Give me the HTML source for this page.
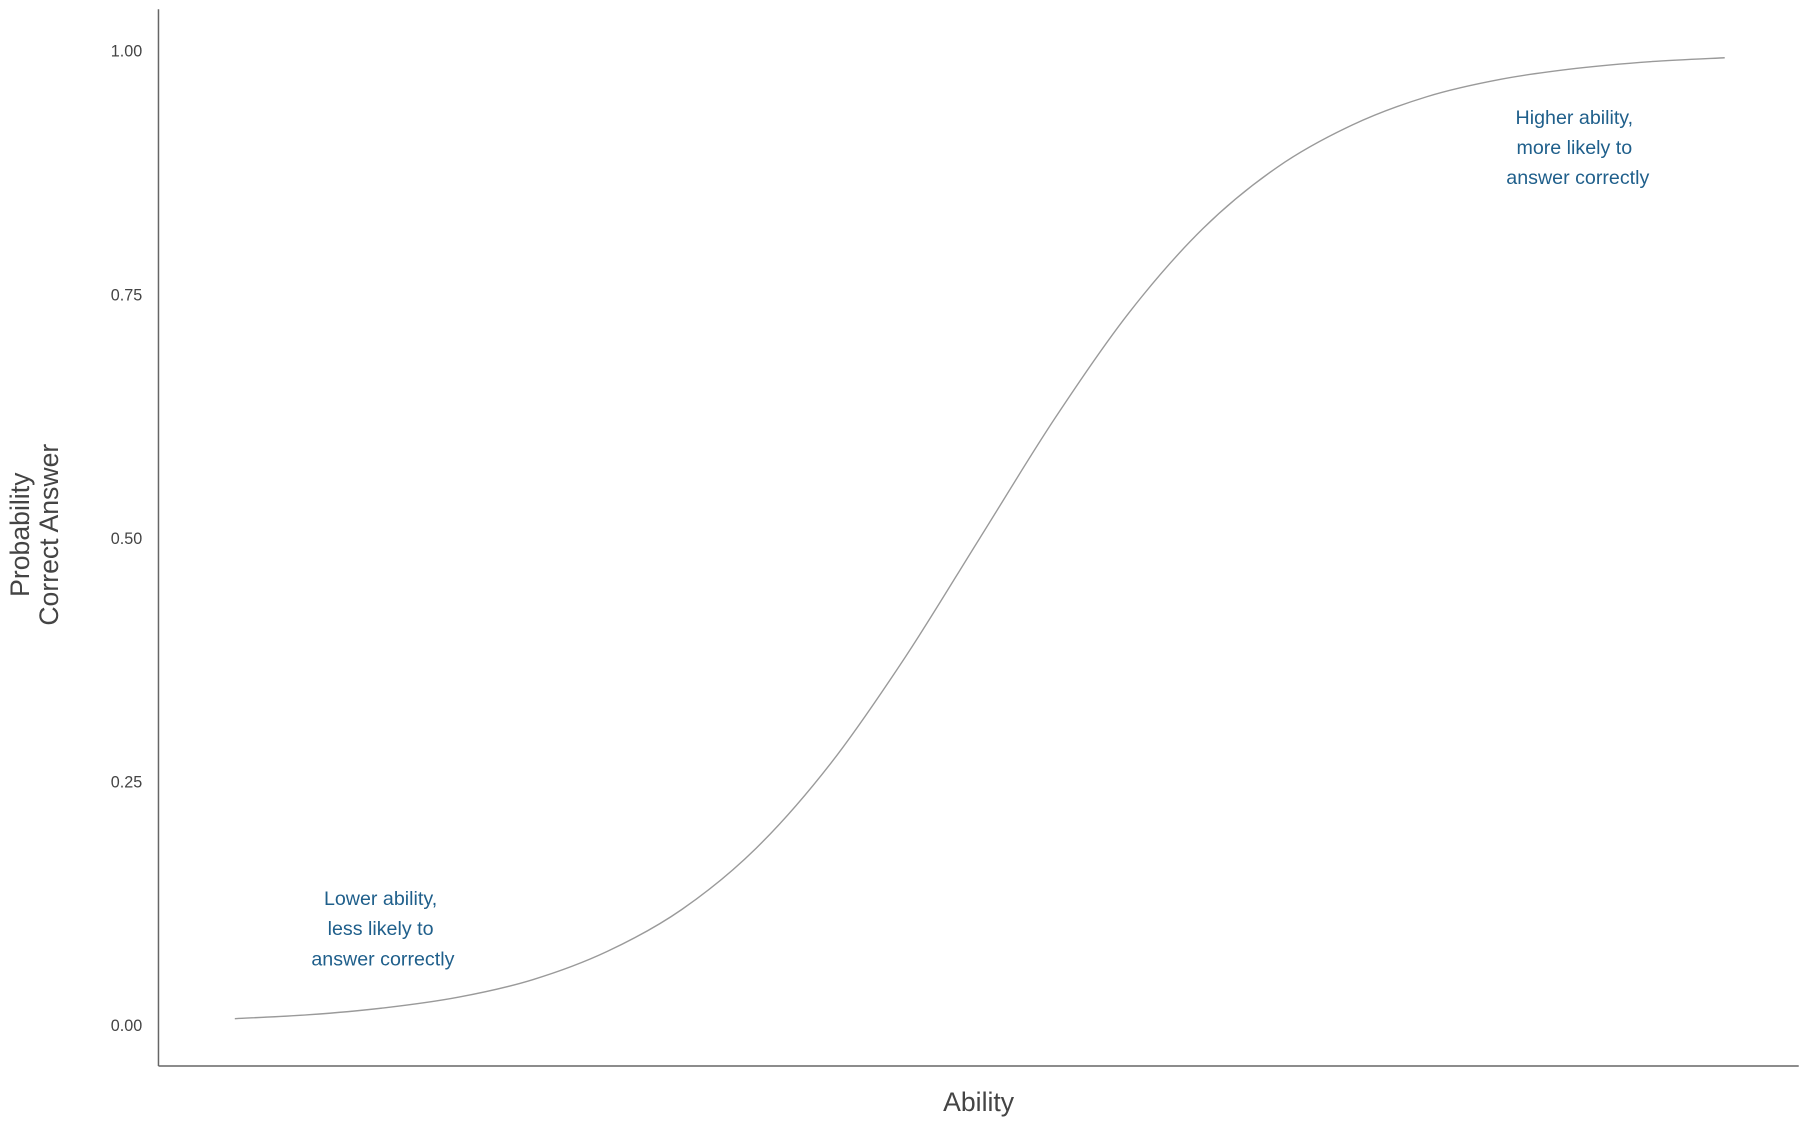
<!DOCTYPE html>
<html><head><meta charset="utf-8"><style>
html,body{margin:0;padding:0;background:#fff;}
svg{display:block;font-family:"Liberation Sans",sans-serif;}
</style></head><body>
<svg id="chart" width="1808" height="1125" viewBox="0 0 1563 972" preserveAspectRatio="none" xmlns="http://www.w3.org/2000/svg">
<line x1="137" y1="8" x2="137" y2="921" stroke="#666" stroke-width="1.3"/>
<line x1="137" y1="921" x2="1555" y2="921" stroke="#666" stroke-width="1.3"/>
<g id="yticks"></g>
<path id="curve" fill="none" stroke="#9a9a9a" stroke-width="1.2"/>
<text x="846" y="960" text-anchor="middle" font-size="23" fill="#444">Ability</text>
<text transform="translate(25,462) rotate(-90)" text-anchor="middle" font-size="23" fill="#444">Probability</text>
<text transform="translate(50,462) rotate(-90)" text-anchor="middle" font-size="23" fill="#444">Correct Answer</text>
<g font-size="17" fill="#1f5f8b" text-anchor="middle">
<text x="329" y="782">Lower ability,</text>
<text x="329" y="808">less likely to</text>
<text x="331" y="834">answer correctly</text>
</g>
<g font-size="17" fill="#1f5f8b" text-anchor="middle">
<text x="1361" y="107">Higher ability,</text>
<text x="1361" y="133">more likely to</text>
<text x="1364" y="159">answer correctly</text>
</g>
</svg>
<script>
const abilityValues=[-5,-4.5,-4,-3.5,-3,-2.5,-2,-1.5,-1,-0.5,0,0.5,1,1.5,2,2.5,3,3.5,4,4.5,5];
const probValues=[0.007,0.011,0.018,0.029,0.047,0.076,0.119,0.182,0.269,0.378,0.5,0.622,0.731,0.818,0.881,0.924,0.953,0.971,0.982,0.989,0.993];
const yTickValues=[0,0.25,0.5,0.75,1];
const yTickLabels=["0.00","0.25","0.50","0.75","1.00"];
const xs=v=>203+(v+5)/10*1288;
const ys=p=>886-p*842;
const svgNS="http://www.w3.org/2000/svg";
const g=document.getElementById('yticks');
yTickValues.forEach((v,i)=>{
  const t=document.createElementNS(svgNS,'text');
  
  
  t.setAttribute('x',123);t.setAttribute('y',ys(v)+5);
  t.setAttribute('text-anchor','end');t.setAttribute('font-size','14');t.setAttribute('fill','#444');
  t.textContent=yTickLabels[i];g.appendChild(t);
});
const pts=abilityValues.map((a,i)=>[xs(a),ys(probValues[i])]);
let d=`M${pts[0][0]},${pts[0][1]}`;
for(let i=0;i<pts.length-1;i++){
  const p0=pts[Math.max(0,i-1)],p1=pts[i],p2=pts[i+1],p3=pts[Math.min(pts.length-1,i+2)];
  const c1=[p1[0]+(p2[0]-p0[0])/6,p1[1]+(p2[1]-p0[1])/6];
  const c2=[p2[0]-(p3[0]-p1[0])/6,p2[1]-(p3[1]-p1[1])/6];
  d+=` C${c1[0]},${c1[1]} ${c2[0]},${c2[1]} ${p2[0]},${p2[1]}`;
}
document.getElementById('curve').setAttribute('d',d);
</script>
</body></html>
